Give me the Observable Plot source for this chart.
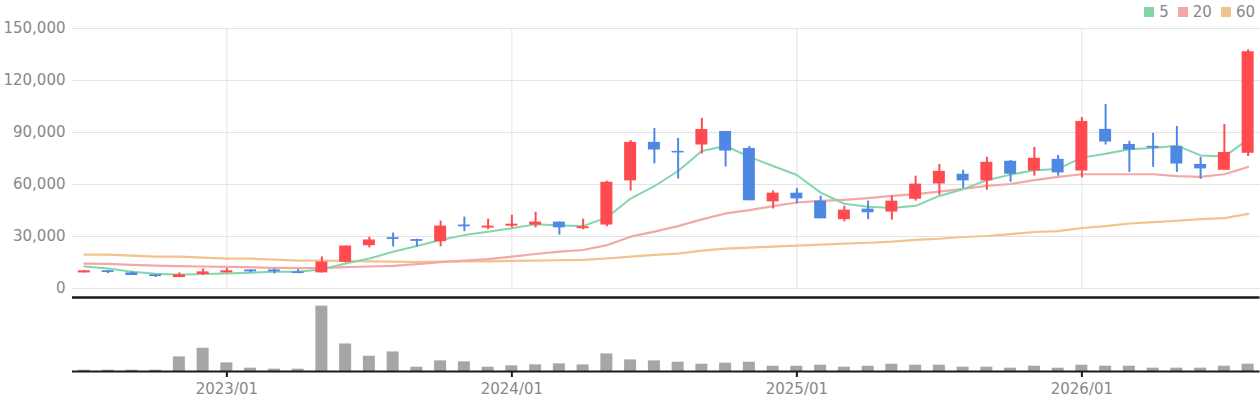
<!DOCTYPE html>
<html><head><meta charset="utf-8">
<script src="https://cdn.jsdelivr.net/npm/d3@7"></script>
<script src="https://cdn.jsdelivr.net/npm/@observablehq/plot@0.6"></script>
<style>
html,body{margin:0;padding:0;background:#fff;}
#wrap{position:relative;width:1260px;height:400px;font-family:"DejaVu Sans",sans-serif;overflow:hidden;}
#legend{position:absolute;top:4px;right:5px;display:flex;align-items:center;height:16px;font-size:15px;color:#888;font-family:"DejaVu Sans",sans-serif;}
#legend .sw{width:10px;height:10px;margin-right:5px;}
#legend .lb{margin-right:9px;}
#legend .lb:last-child{margin-right:0;}
svg{display:block;}
</style></head>
<body>
<div id="wrap"><div id="legend"></div><div id="top"></div><div id="bottom"></div></div>
<script>
const months = ["2022/07","2022/08","2022/09","2022/10","2022/11","2022/12",
"2023/01","2023/02","2023/03","2023/04","2023/05","2023/06","2023/07","2023/08","2023/09","2023/10","2023/11","2023/12",
"2024/01","2024/02","2024/03","2024/04","2024/05","2024/06","2024/07","2024/08","2024/09","2024/10","2024/11","2024/12",
"2025/01","2025/02","2025/03","2025/04","2025/05","2025/06","2025/07","2025/08","2025/09","2025/10","2025/11","2025/12",
"2026/01","2026/02","2026/03","2026/04","2026/05","2026/06","2026/07","2026/08"];
const yearTicks = ["2023/01","2024/01","2025/01","2026/01"];
const yTicks = [0,30000,60000,90000,120000,150000];

const open  = [9000,10200,9000,7900,6300,8100,9000,10700,10700,9600,9000,15100,24700,29300,28200,27000,36600,34900,36000,36600,38300,34500,36600,62100,84300,79100,82800,90600,80800,50000,55000,50400,39700,45800,44100,51500,60300,65900,62100,73400,67800,74500,67800,91800,83100,82000,82000,71600,68200,78000];
const close = [10200,9200,7500,6900,7900,9600,10200,9600,9600,8600,15300,24500,28000,28300,27200,36000,35600,36000,37100,38300,35000,35600,61300,84300,79900,78200,91700,79300,50600,55000,51700,40200,45200,43700,50400,60200,67600,62100,72800,65900,75100,66700,96400,84500,79900,81000,71800,69000,78500,136600];
const high  = [10300,10300,9600,8000,9000,11300,11500,10700,11300,10900,18200,24500,29500,32000,28400,38900,41200,40000,42300,44000,38300,40000,61900,85400,92300,86600,98100,90600,82000,56300,57700,53300,47500,50400,53400,64800,71600,68200,75700,73900,81400,76800,98600,106100,84900,89500,93500,75700,94600,137700];
const low   = [9000,8600,7500,6300,6300,7500,9000,9000,8400,8600,9000,14800,23400,24000,24000,24000,32800,33900,35000,35000,30800,33900,35600,56300,71900,63200,77600,70100,50600,45900,48900,40200,38500,39700,39500,50400,53800,57800,56700,61300,64800,64800,63800,82800,67000,69900,67000,63000,68200,76200];
const volume = [4,4,4,4,44,70,26,10,7,7,197,83,46,59,13,32,29,13,17,20,23,20,53,35,32,28,22,25,28,16,16,19,13,16,22,19,19,13,13,10,16,10,19,16,16,10,10,10,16,22];
const ma5  = [12700,11500,9600,8500,8000,8400,8600,9100,9600,9700,11000,14400,17300,21200,24500,28000,30800,32800,34700,37000,36400,36000,41000,51900,59000,67800,79300,82200,75900,70700,65500,55300,48900,47100,46400,47700,53400,57300,62500,65700,68200,69000,75500,77800,80300,81000,82400,76800,76100,86000];
const ma20 = [14400,14200,13600,13200,12900,12700,12500,12300,11900,11700,11800,12300,12700,13100,14100,15200,16100,17000,18400,19900,21300,22200,25000,29900,32800,36000,39900,43300,45200,47500,49600,50600,51100,52100,53400,54400,55900,57500,59200,60300,62500,64400,65900,65900,65900,65900,64800,64400,65900,70100];
const ma60 = [19500,19500,19000,18400,18400,17800,17200,17200,16700,16100,16100,15900,15700,15500,15300,15500,15600,15700,15900,16100,16300,16500,17300,18400,19400,20100,21900,23000,23600,24200,24700,25300,25900,26400,27000,28000,28700,29700,30300,31400,32600,33100,34900,36000,37500,38300,39100,40000,40600,43100];

const legendItems = [{label:"5", color:"#84d5a9"},{label:"20", color:"#f3a8a8"},{label:"60", color:"#f2c28f"}];
const UP = "#ff4b4f", DOWN = "#4f88e3", VOL = "#a6a6a6", GRID = "#e3e3e3", AXIS = "#1a1a1a", TXT = "#888";

const rows = months.map((m,i)=>({m, o:open[i], c:close[i], h:high[i], l:low[i], v:volume[i], ma5:ma5[i], ma20:ma20[i], ma60:ma60[i]}));

const xScale = {type:"band", domain:months, paddingInner:0.495, paddingOuter:0.2475, align:0.5};
const font = {fontFamily:"DejaVu Sans, sans-serif", fontSize:"15px", color:TXT, background:"#fff", overflow:"visible"};

const topChart = Plot.plot({
  width:1260, height:296, marginLeft:72, marginRight:0.5, marginTop:28, marginBottom:8,
  style:font,
  x:{...xScale, axis:null},
  y:{domain:[0,150000], axis:null},
  marks:[
    Plot.gridY(yTicks, {stroke:GRID, strokeOpacity:1}),
    Plot.ruleX(yearTicks, {x:d=>d, y1:0, y2:150000, stroke:GRID, strokeOpacity:1}),
    Plot.axisY(yTicks, {tickSize:0, tickPadding:7, tickFormat:d3.format(","), fill:TXT, fontSize:15, label:null}),
    Plot.lineY(rows, {x:"m", y:"ma60", stroke:legendItems[2].color, strokeWidth:2.2}),
    Plot.lineY(rows, {x:"m", y:"ma20", stroke:legendItems[1].color, strokeWidth:2.2}),
    Plot.lineY(rows, {x:"m", y:"ma5", stroke:legendItems[0].color, strokeWidth:2}),
    Plot.ruleX(rows, {x:"m", y1:"l", y2:"h", stroke:d=>d.c>=d.o?UP:DOWN, strokeWidth:2}),
    Plot.barY(rows, {x:"m", y1:"o", y2:"c", fill:d=>d.c>=d.o?UP:DOWN})
  ]
});

const bottomChart = Plot.plot({
  width:1260, height:104, marginLeft:72, marginRight:0.5, marginTop:1, marginBottom:29,
  style:font,
  x:{...xScale, axis:null},
  y:{domain:[0,223], axis:null},
  marks:[
    Plot.barY(rows, {x:"m", y:"v", fill:VOL}),
    Plot.ruleY([223], {stroke:AXIS, strokeWidth:2.5}),
    Plot.ruleY([0], {stroke:AXIS, strokeWidth:2}),
    Plot.axisX(yearTicks, {tickSize:6, tickPadding:6, stroke:AXIS, strokeWidth:2, fill:TXT, fontSize:15, label:null})
  ]
});

document.getElementById("top").appendChild(topChart);
document.getElementById("bottom").appendChild(bottomChart);

const lg = document.getElementById("legend");
legendItems.forEach(it=>{
  const s = document.createElement("span"); s.className="sw"; s.style.background=it.color; lg.appendChild(s);
  const t = document.createElement("span"); t.className="lb"; t.textContent=it.label; lg.appendChild(t);
});
</script>
</body></html>
